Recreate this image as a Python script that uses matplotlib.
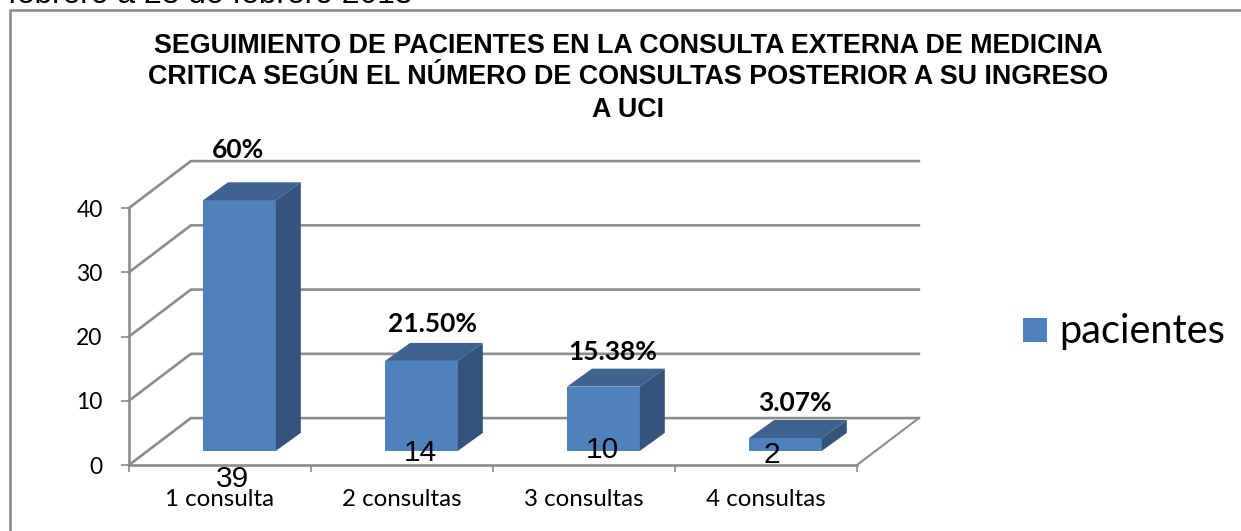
import matplotlib
matplotlib.use("Agg")
import matplotlib.pyplot as plt
from matplotlib.patches import Polygon, Rectangle
from matplotlib.lines import Line2D

categories = ["1 consulta", "2 consultas", "3 consultas", "4 consultas"]
pacientes = [39, 14, 10, 2]
percent_labels = ["60%", "21.50%", "15.38%", "3.07%"]
y_ticks = [0, 10, 20, 30, 40]
title_lines = ["SEGUIMIENTO DE PACIENTES EN LA CONSULTA EXTERNA DE MEDICINA",
               "CRITICA SEGÚN EL NÚMERO DE CONSULTAS POSTERIOR A SU INGRESO",
               "A UCI"]

W, H = 1241, 531
FRONT = "#4f81bd"
TOP = "#3e6390"
SIDE = "#34547c"
GRID = "#8c8c8c"

fig = plt.figure(figsize=(W / 100, H / 100), dpi=100)
# axes box = front plane of the fake 3d chart
ax = fig.add_axes([129 / W, 1 - 465 / H, 728 / W, 257 / H])
ax.set_xlim(0, 4)
ax.set_ylim(0, 40)
ax.patch.set_visible(False)

# depth of the back wall and of the bars, in data units
wall_dx, wall_dy = 0.34, 7.3
bar_dx, bar_dy = 0.137, 2.8
bar_w = 0.40
bar_base = 2.2
bar_off = 0.107

for v in y_ticks:
    ax.plot([0, wall_dx, 4 + wall_dx], [v, v + wall_dy, v + wall_dy],
            color=GRID, lw=1.9, clip_on=False, zorder=1)
ax.plot([4, 4 + wall_dx], [0, wall_dy], color=GRID, lw=1.5, clip_on=False, zorder=1)

for i, v in enumerate(pacientes):
    x0 = i + 0.5 + bar_off - bar_w / 2
    x1 = x0 + bar_w
    y1 = bar_base + v
    ax.bar(x0, v, width=bar_w, bottom=bar_base, align="edge", color=FRONT, zorder=3, clip_on=False)
    ax.add_patch(Polygon([(x0, y1), (x1, y1), (x1 + bar_dx, y1 + bar_dy), (x0 + bar_dx, y1 + bar_dy)],
                         color=TOP, lw=0, zorder=3, clip_on=False))
    ax.add_patch(Polygon([(x1, bar_base), (x1 + bar_dx, bar_base + bar_dy), (x1 + bar_dx, y1 + bar_dy), (x1, y1)],
                         color=SIDE, lw=0, zorder=3, clip_on=False))

# value labels sit low on the bars in the original
value_pos = [(0.566, -2.2), (1.6, 1.9), (2.6, 2.3), (3.53, 1.6)]
for (x, y), v in zip(value_pos, pacientes):
    ax.text(x, y, str(v), ha="center", va="center", fontsize=21.5, family="Liberation Sans", zorder=5)

pct_pos = [(0.6, 49.0), (1.67, 22.0), (2.66, 17.6), (3.66, 9.6)]
for (x, y), s in zip(pct_pos, percent_labels):
    ax.text(x, y, s, ha="center", va="center", fontsize=19, fontweight="bold", family="Lato", zorder=5)

for s in ["top", "right"]:
    ax.spines[s].set_visible(False)
for s in ["left", "bottom"]:
    ax.spines[s].set_color(GRID)
    ax.spines[s].set_linewidth(1.9)
ax.set_xticks(range(5))
ax.set_xticklabels([])
ax.set_xticks([0.5, 1.5, 2.5, 3.5], labels=categories, minor=True, family="Lato", fontsize=17.4)
ax.tick_params(axis="x", which="major", length=5, width=1.2, color=GRID)
ax.tick_params(axis="x", which="minor", length=0, pad=17)
ax.set_yticks(y_ticks)
ax.tick_params(axis="y", length=6, width=1.2, color=GRID, labelsize=16.5, pad=13)
for lab in ax.get_yticklabels():
    lab.set_family("Lato")

for y_px, line in zip([46, 77, 110], title_lines):
    fig.text(628 / W, 1 - y_px / H, line, ha="center", va="center", fontsize=19.35,
             fontweight="bold", family="Liberation Sans")

# chart frame runs off the right and bottom of the crop; body text is cut off above it
fig.add_artist(Line2D([9.5 / W, 9.5 / W, 1], [0, 1 - 9.5 / H, 1 - 9.5 / H],
                      transform=fig.transFigure, color=GRID, lw=1.9))
fig.text(8 / W, 1 - 3 / H, "febrero a 28 de febrero 2013", ha="left", va="baseline", fontsize=22.9,
         family="Liberation Sans")

# legend
fig.add_artist(Rectangle((1023 / W, 1 - 342 / H), 24 / W, 24 / H, transform=fig.transFigure, color=FRONT, lw=0))
fig.text(1059 / W, 1 - 332 / H, "pacientes", ha="left", va="center", fontsize=28.6, family="Lato")

fig.savefig("out.png", dpi=100)
